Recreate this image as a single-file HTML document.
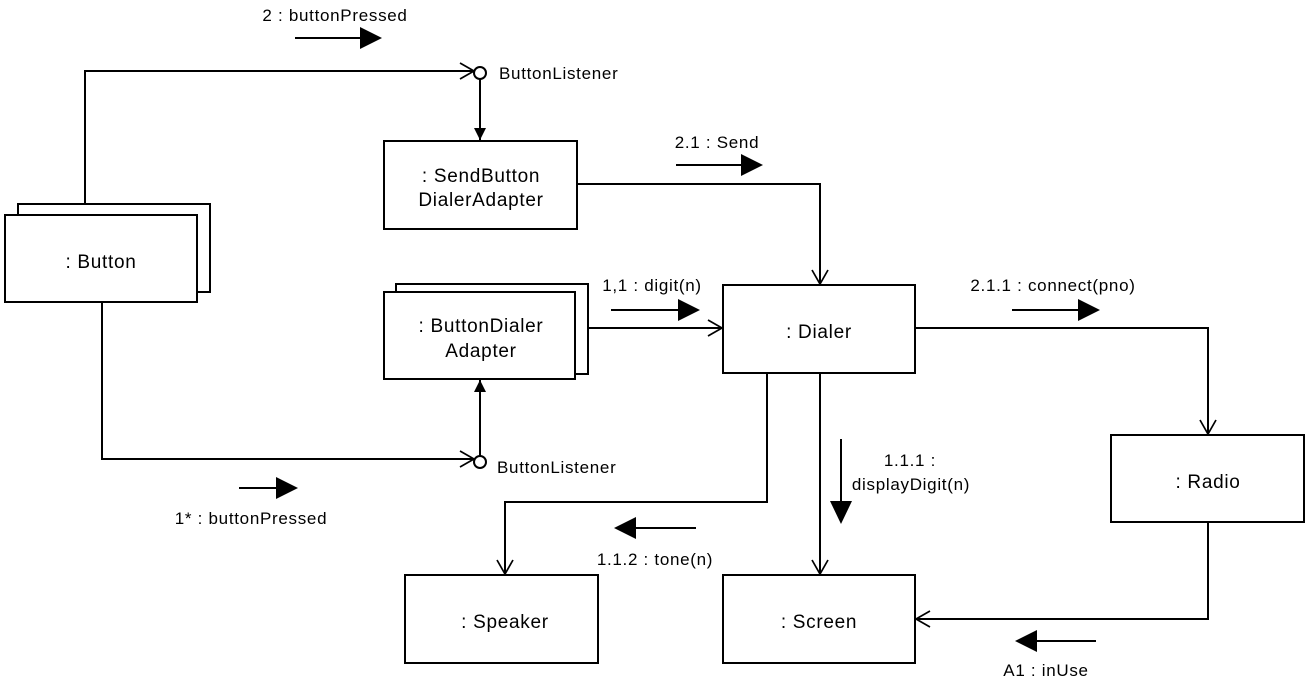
<!DOCTYPE html>
<html><head><meta charset="utf-8"><style>
html,body{margin:0;padding:0;background:#fff;}
svg{display:block;}
text{font-family:"Liberation Sans",Arial,sans-serif;fill:#000;}
.s{font-size:17px;letter-spacing:0.7px;}
.b{font-size:19px;letter-spacing:0.7px;}
</style></head><body>
<svg width="1313" height="695" viewBox="0 0 1313 695" xmlns="http://www.w3.org/2000/svg">
<defs>
<marker id="open" markerWidth="18" markerHeight="20" refX="15" refY="10" orient="auto" markerUnits="userSpaceOnUse">
<path d="M1,2 L15,10 L1,18" fill="none" stroke="#000" stroke-width="1.7"/></marker>
<marker id="fill" markerWidth="14" markerHeight="14" refX="12" refY="7" orient="auto" markerUnits="userSpaceOnUse">
<path d="M0,1 L12,7 L0,13 Z" fill="#000"/></marker>
</defs>
<g fill="#fff" stroke="#000" stroke-width="2">
<rect x="18" y="204" width="192" height="88"/>
<rect x="5" y="215" width="192" height="87"/>
<rect x="384" y="141" width="193" height="88"/>
<rect x="396" y="284" width="192" height="90"/>
<rect x="384" y="292" width="191" height="87"/>
<rect x="723" y="285" width="192" height="88"/>
<rect x="1111" y="435" width="193" height="87"/>
<rect x="723" y="575" width="192" height="88"/>
<rect x="405" y="575" width="193" height="88"/>
</g>
<g fill="none" stroke="#000" stroke-width="2">
<polyline points="85,204 85,71 474,71" marker-end="url(#open)"/>
<line x1="480" y1="78" x2="480" y2="140" marker-end="url(#fill)"/>
<polyline points="577,184 820,184 820,284" marker-end="url(#open)"/>
<line x1="588" y1="328" x2="722" y2="328" marker-end="url(#open)"/>
<polyline points="915,328 1208,328 1208,434" marker-end="url(#open)"/>
<polyline points="1208,522 1208,619 916,619" marker-end="url(#open)"/>
<line x1="820" y1="373" x2="820" y2="574" marker-end="url(#open)"/>
<polyline points="767,373 767,502 505,502 505,574" marker-end="url(#open)"/>
<polyline points="102,302 102,459 474,459" marker-end="url(#open)"/>
<line x1="480" y1="456" x2="480" y2="380" marker-end="url(#fill)"/>
<circle cx="480" cy="73" r="6" fill="#fff"/>
<circle cx="480" cy="462" r="6" fill="#fff"/>
</g>
<g stroke="#000" stroke-width="2" fill="#000">
<line x1="295" y1="38" x2="362" y2="38"/><path d="M360,27 L382,38 L360,49 Z" stroke="none"/>
<line x1="676" y1="165" x2="743" y2="165"/><path d="M741,154 L763,165 L741,176 Z" stroke="none"/>
<line x1="611" y1="310" x2="680" y2="310"/><path d="M678,299 L700,310 L678,321 Z" stroke="none"/>
<line x1="1012" y1="310" x2="1080" y2="310"/><path d="M1078,299 L1100,310 L1078,321 Z" stroke="none"/>
<line x1="239" y1="488" x2="278" y2="488"/><path d="M276,477 L298,488 L276,499 Z" stroke="none"/>
<line x1="841" y1="439" x2="841" y2="504"/><path d="M830,501 L841,524 L852,501 Z" stroke="none"/>
<line x1="696" y1="528" x2="634" y2="528"/><path d="M636,517 L614,528 L636,539 Z" stroke="none"/>
<line x1="1096" y1="641" x2="1035" y2="641"/><path d="M1037,630 L1015,641 L1037,652 Z" stroke="none"/>
</g>
<g text-anchor="middle">
<text class="b" x="101" y="268">: Button</text>
<text class="b" x="481" y="182">: SendButton</text>
<text class="b" x="481" y="206">DialerAdapter</text>
<text class="b" x="481" y="332">: ButtonDialer</text>
<text class="b" x="481" y="357">Adapter</text>
<text class="b" x="819" y="338">: Dialer</text>
<text class="b" x="1208" y="488">: Radio</text>
<text class="b" x="819" y="628">: Screen</text>
<text class="b" x="505" y="628">: Speaker</text>
<text class="s" x="335" y="21">2 : buttonPressed</text>
<text class="s" x="717" y="148">2.1 : Send</text>
<text class="s" x="652" y="291">1,1 : digit(n)</text>
<text class="s" x="1053" y="291">2.1.1 : connect(pno)</text>
<text class="s" x="251" y="524">1* : buttonPressed</text>
<text class="s" x="910" y="466">1.1.1 :</text>
<text class="s" x="911" y="490">displayDigit(n)</text>
<text class="s" x="655" y="565">1.1.2 : tone(n)</text>
<text class="s" x="1046" y="676">A1 : inUse</text>
</g>
<text class="s" x="499" y="79">ButtonListener</text>
<text class="s" x="497" y="473">ButtonListener</text>
</svg>
</body></html>
